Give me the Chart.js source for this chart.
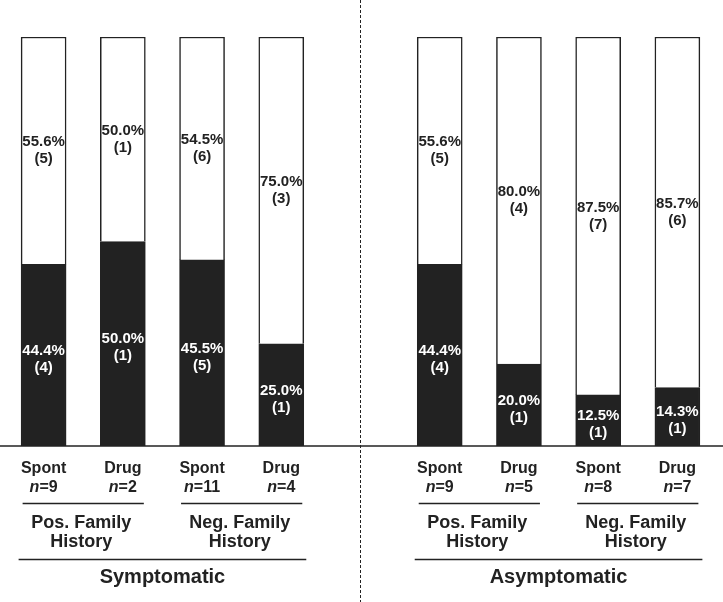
<!DOCTYPE html>
<html>
<head>
<meta charset="utf-8">
<script src="https://cdn.jsdelivr.net/npm/chart.js@4"></script>
<style>
  body { margin: 0; background: #fff; }
</style>
</head>
<body>
<canvas id="chart" width="723" height="602"></canvas>
<script>
// one empty slot in the middle separates the two panels
const categories = ['Spont', 'Drug', 'Spont', 'Drug', '', 'Spont', 'Drug', 'Spont', 'Drug'];
const groupSizes = [9, 2, 11, 4, null, 9, 5, 8, 7];
const blackPct = [44.4, 50.0, 45.5, 25.0, null, 44.4, 20.0, 12.5, 14.3];
const whitePct = [55.6, 50.0, 54.5, 75.0, null, 55.6, 80.0, 87.5, 85.7];
const blackCount = [4, 1, 5, 1, null, 4, 1, 1, 1];
const whiteCount = [5, 1, 6, 3, null, 5, 4, 7, 6];
const familyGroups = [
  { label: ['Pos. Family', 'History'], from: 0, to: 1 },
  { label: ['Neg. Family', 'History'], from: 2, to: 3 },
  { label: ['Pos. Family', 'History'], from: 5, to: 6 },
  { label: ['Neg. Family', 'History'], from: 7, to: 8 }
];
const panels = [
  { label: 'Symptomatic', from: 0, to: 3 },
  { label: 'Asymptomatic', from: 5, to: 8 }
];

const FONT = '"Liberation Sans", Arial, sans-serif';
const INK = '#222';

const annotate = {
  id: 'annotate',
  afterDatasetsDraw(chart) {
    const ctx = chart.ctx;
    const x = chart.scales.x;
    const area = chart.chartArea;
    ctx.save();
    ctx.textAlign = 'center';
    ctx.textBaseline = 'middle';

    // labels inside the bars
    ctx.font = 'bold 15px ' + FONT;
    [[0, blackPct, blackCount, '#fff', 4], [1, whitePct, whiteCount, INK, 0]].forEach(([di, pct, cnt, color, dy]) => {
      chart.getDatasetMeta(di).data.forEach((bar, i) => {
        if (pct[i] == null) return;
        const mid = (bar.y + bar.base) / 2 + dy;
        ctx.fillStyle = color;
        ctx.fillText(pct[i].toFixed(1) + '%', bar.x, mid - 8.5);
        ctx.fillText('(' + cnt[i] + ')', bar.x, mid + 8.5);
      });
    });

    // baseline
    ctx.strokeStyle = INK;
    ctx.lineWidth = 1.5;
    ctx.beginPath();
    ctx.moveTo(0, area.bottom);
    ctx.lineTo(chart.width, area.bottom);
    ctx.stroke();

    // dashed panel divider
    const divX = x.getPixelForValue(4);
    ctx.lineWidth = 1;
    ctx.setLineDash([3, 2]);
    ctx.beginPath();
    ctx.moveTo(divX, 0);
    ctx.lineTo(divX, chart.height);
    ctx.stroke();
    ctx.setLineDash([]);

    // category labels
    ctx.fillStyle = INK;
    categories.forEach((c, i) => {
      if (!c) return;
      const cx = x.getPixelForValue(i);
      ctx.font = 'bold 16px ' + FONT;
      ctx.fillText(c, cx, area.bottom + 22.5);
      const nPart = 'n';
      const rest = '=' + groupSizes[i];
      ctx.font = 'italic bold 16px ' + FONT;
      const w1 = ctx.measureText(nPart).width;
      ctx.font = 'bold 16px ' + FONT;
      const w2 = ctx.measureText(rest).width;
      const left = cx - (w1 + w2) / 2;
      ctx.textAlign = 'left';
      ctx.font = 'italic bold 16px ' + FONT;
      ctx.fillText(nPart, left, area.bottom + 41.5);
      ctx.font = 'bold 16px ' + FONT;
      ctx.fillText(rest, left + w1, area.bottom + 41.5);
      ctx.textAlign = 'center';
    });

    // family history groups
    familyGroups.forEach(g => {
      const a = x.getPixelForValue(g.from), b = x.getPixelForValue(g.to);
      ctx.lineWidth = 1.5;
      ctx.beginPath();
      ctx.moveTo(a - 21, area.bottom + 57.5);
      ctx.lineTo(b + 21, area.bottom + 57.5);
      ctx.stroke();
      ctx.font = 'bold 18px ' + FONT;
      ctx.fillText(g.label[0], (a + b) / 2 - 2, area.bottom + 77);
      ctx.fillText(g.label[1], (a + b) / 2 - 2, area.bottom + 96);
    });

    // panels
    panels.forEach(p => {
      const a = x.getPixelForValue(p.from), b = x.getPixelForValue(p.to);
      ctx.lineWidth = 1.5;
      ctx.beginPath();
      ctx.moveTo(a - 25, area.bottom + 113.5);
      ctx.lineTo(b + 25, area.bottom + 113.5);
      ctx.stroke();
      ctx.font = 'bold 20px ' + FONT;
      ctx.fillText(p.label, (a + b) / 2, area.bottom + 131.5);
    });

    ctx.restore();
  }
};

new Chart(document.getElementById('chart').getContext('2d'), {
  type: 'bar',
  data: {
    labels: categories,
    datasets: [{
      data: blackPct,
      backgroundColor: INK,
      borderColor: INK,
      borderWidth: 1.5,
      barThickness: 45
    }, {
      data: whitePct,
      backgroundColor: '#fff',
      borderColor: INK,
      borderWidth: 1.5,
      barThickness: 45
    }]
  },
  options: {
    responsive: false,
    animation: false,
    layout: { padding: { top: 37, bottom: 156, left: 4, right: 6 } },
    plugins: { legend: { display: false }, tooltip: { enabled: false } },
    scales: {
      x: { stacked: true, display: false },
      y: { stacked: true, display: false, min: 0, max: 100 }
    }
  },
  plugins: [annotate]
});
</script>
</body>
</html>
